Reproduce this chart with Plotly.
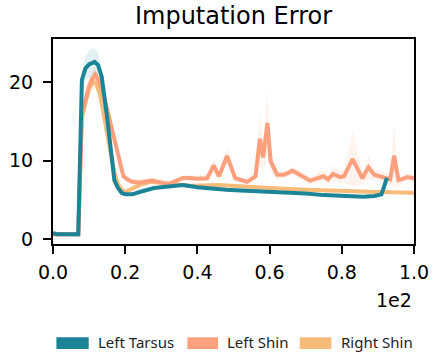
import plotly.graph_objects as go

# ---------------- data ----------------
tarsus_x = [0, 1, 3, 5, 7, 8, 9, 10, 11, 11.5, 12.5, 13.5, 15, 16, 17, 18, 19, 20, 22, 24, 26, 28,
            30, 33, 36, 40, 44, 48, 52, 56, 60, 65, 70, 75, 79, 83, 86, 89, 91, 92.5]
tarsus_y = [0.8, 0.6, 0.6, 0.6, 0.6, 20.3, 21.8, 22.3, 22.5, 22.6, 22.2, 20.7, 15.5, 11.5, 7.5, 6.5,
            5.9, 5.7, 5.7, 6.0, 6.3, 6.5, 6.6, 6.8, 6.9, 6.6, 6.4, 6.3, 6.2, 6.1, 6.05, 6.0, 5.8, 5.6,
            5.5, 5.4, 5.4, 5.5, 5.7, 7.8]
tarsus_sd = [0.1, 0.1, 0.1, 0.1, 0.1, 1.0, 1.5, 1.8, 1.8, 1.8, 1.5, 1.0, 0.8, 0.6, 0.4, 0.3,
             0.2, 0.2, 0.2, 0.2, 0.2, 0.2, 0.2, 0.2, 0.2, 0.2, 0.2, 0.2, 0.2, 0.2, 0.2, 0.2, 0.2, 0.2,
             0.2, 0.2, 0.2, 0.2, 0.3, 0.8]

lshin_x = [0, 7, 8, 9, 10, 10.7, 11.7, 12.5, 13.5, 14.5, 15.5, 16.3, 17.5, 18.5, 19.5, 21, 22, 24,
           26, 27.4, 30, 32, 34, 36, 38, 40, 42.7, 44.5, 46, 48.2, 50.5, 53.8, 56.1, 57.3, 58.2,
           59.4, 60.3, 62.1, 64, 66.3, 68, 71.2, 74.9, 76.2, 77.6, 79.5, 80.6, 83, 85.7, 87.4,
           89, 91.8, 93.4, 94.5, 95.7, 97, 98.2, 100]
lshin_y = [0.6, 0.6, 16.0, 18.0, 19.5, 20.3, 21.0, 20.3, 19.2, 17.5, 15.5, 13.9, 11.5, 9.5, 8.0,
           7.5, 7.3, 7.2, 7.3, 7.45, 7.2, 7.0, 7.4, 7.8, 7.8, 7.7, 7.75, 9.4, 8.0, 10.6, 7.75, 7.3,
           8.0, 12.8, 10.4, 14.8, 9.9, 8.2, 8.2, 8.7, 8.3, 7.45, 8.0, 7.6, 8.3, 7.9, 8.0, 10.2,
           7.75, 9.15, 8.2, 7.9, 7.6, 10.6, 7.5, 7.7, 7.9, 7.75]
lshin_sd = [0.1, 0.1, 0.8, 0.9, 1.0, 1.0, 1.0, 1.0, 0.9, 0.8, 0.7, 0.6, 0.5, 0.5, 0.4,
            0.4, 0.4, 0.4, 0.4, 0.4, 0.4, 0.4, 0.4, 0.4, 0.4, 0.4, 0.4, 0.9, 0.5, 1.0, 0.4, 0.4,
            0.5, 3.5, 2.0, 4.0, 1.5, 0.6, 0.5, 0.5, 0.5, 0.5, 0.8, 0.6, 1.0, 0.8, 0.8, 3.5,
            0.8, 1.5, 0.8, 0.6, 0.8, 4.0, 0.8, 0.5, 0.5, 0.5]

rshin_x = [0, 7, 8, 9, 10, 11.2, 12, 13, 14, 15, 16, 17, 18, 19, 20, 21, 24, 27, 31.6, 35, 38,
           46, 52, 60, 70, 80, 90, 100]
rshin_y = [0.6, 0.6, 15.5, 17.5, 19.2, 20.1, 19.8, 18.5, 16.0, 13.0, 10.5, 8.5, 7.0, 6.3, 6.0,
           6.2, 6.9, 7.3, 7.1, 6.9, 6.8, 6.9, 6.7, 6.5, 6.3, 6.1, 6.0, 5.9]
rshin_sd = [0.1, 0.1, 1.0, 1.0, 1.0, 1.0, 1.0, 0.9, 0.8, 0.7, 0.5, 0.4, 0.3, 0.2, 0.2,
            0.2, 0.2, 0.2, 0.2, 0.2, 0.2, 0.2, 0.2, 0.2, 0.2, 0.2, 0.2, 0.2]

x_tick_vals = [0, 20, 40, 60, 80, 100]
x_tick_text = ["0.0", "0.2", "0.4", "0.6", "0.8", "1.0"]
y_tick_vals = [0, 10, 20]

series_names = ["Left Tarsus", "Left Shin", "Right Shin"]
series_colors = ["#1b8597", "#fb9f7c", "#f7bb7a"]
band_colors = ["rgba(27,133,151,0.12)", "rgba(251,159,124,0.12)", "rgba(247,187,122,0.12)"]

series = [
    (tarsus_x, tarsus_y, tarsus_sd),
    (lshin_x, lshin_y, lshin_sd),
    (rshin_x, rshin_y, rshin_sd),
]

fig = go.Figure()

# bands
for (xs, ys, sd), bc in zip(series, band_colors):
    lo = [y - s for y, s in zip(ys, sd)]
    hi = [y + s for y, s in zip(ys, sd)]
    fig.add_trace(go.Scatter(x=xs, y=lo, mode="lines", line=dict(width=0),
                             showlegend=False, hoverinfo="skip"))
    fig.add_trace(go.Scatter(x=xs, y=hi, mode="lines", line=dict(width=0),
                             fill="tonexty", fillcolor=bc, showlegend=False, hoverinfo="skip"))

# lines: right shin, left shin, then tarsus on top
for idx in [2, 1, 0]:
    xs, ys, _ = series[idx]
    fig.add_trace(go.Scatter(x=xs, y=ys, mode="lines", name=series_names[idx],
                             line=dict(color=series_colors[idx], width=4),
                             showlegend=False))

# geometry helpers (paper coords)
L, R, T, B = 53.3, 414.3, 39.0, 244.0
W, H = R - L, B - T
def px(x):
    return (x - L) / W
def py(y):
    return (B - y) / H

shapes = []
annotations = []
sw_x = [(56.7, 89.0), (187.7, 218.3), (300.0, 331.7)]
tx_x = [96.7, 225.7, 339.0]
for (a, b), t, name, col in zip(sw_x, tx_x, series_names, series_colors):
    shapes.append(dict(type="rect", xref="paper", yref="paper",
                       x0=px(a), x1=px(b), y0=py(349.0), y1=py(337.3),
                       fillcolor=col, line=dict(width=0)))
    annotations.append(dict(text=name, xref="paper", yref="paper", x=px(t), y=py(341.5),
                            xanchor="left", yanchor="middle", showarrow=False,
                            font=dict(family="Noto Sans", size=15, color="#222222")))

annotations.append(dict(text="1e2", xref="paper", yref="paper", x=px(414), y=py(300),
                        xanchor="right", yanchor="middle", showarrow=False,
                        font=dict(family="DejaVu Sans", size=19, color="black")))

fig.update_layout(
    width=433, height=352, autosize=False,
    margin=dict(l=L, r=433 - R, t=T, b=352 - B, autoexpand=False),
    paper_bgcolor="white", plot_bgcolor="white",
    title=dict(text="Imputation Error", x=0.5, xref="paper", xanchor="center",
               y=1 - 15.7 / 352, yref="container", yanchor="middle",
               font=dict(family="DejaVu Sans", size=24, color="black")),
    shapes=shapes, annotations=annotations,
    showlegend=False,
)
fig.update_xaxes(range=[0, 100], tickvals=x_tick_vals, ticktext=x_tick_text,
                 showline=True, mirror=True, linecolor="black", linewidth=2,
                 ticks="outside", ticklen=8, tickwidth=2, tickcolor="black",
                 showgrid=False, zeroline=False, automargin=False, ticklabelstandoff=2,
                 tickfont=dict(family="DejaVu Sans", size=19, color="black"))
fig.update_yaxes(range=[-0.64, 25.53], tickvals=y_tick_vals,
                 showline=True, mirror=True, linecolor="black", linewidth=2,
                 ticks="outside", ticklen=8, tickwidth=2, tickcolor="black",
                 showgrid=False, zeroline=False, automargin=False, ticklabelstandoff=6,
                 tickfont=dict(family="DejaVu Sans", size=19, color="black"))

fig.write_html("out.html")
